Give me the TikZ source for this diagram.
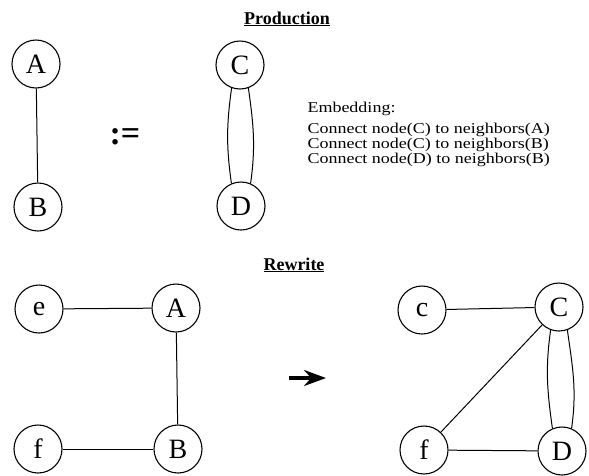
\documentclass[tikz,border=0pt]{standalone}
\usepackage{fontspec}
\setmainfont{Liberation Serif}
\newfontfamily\embfont[FakeStretch=1.2]{Liberation Serif}
\usepackage{tikz}
\usetikzlibrary{arrows.meta,automata}

\begin{document}
\begin{tikzpicture}[x=1pt, y=-1pt, auto, line width=1pt]
    \tikzstyle{every state}=[fill=none, text=black, draw, minimum size=48pt,
                             inner sep=0pt, line width=1.1pt,
                             font=\fontsize{28}{30}\selectfont]
    \tikzstyle{title}=[anchor=base, font=\fontsize{18}{20}\selectfont\bfseries]
    \tikzstyle{rule}=[anchor=base west, inner sep=0pt,
                      font=\embfont\fontsize{15}{16}\selectfont]
    \useasboundingbox (0,0) rectangle (589,475);

    % production
    \node[title] (prod) at (287,24) {\underline{Production}};

    \node[state] (A) at (36,64)  {A};
    \node[state] (B) at (38,207) {B};
    \node[state] (C) at (240,65) {C};
    \node[state] (D) at (241,206) {D};

    \node[font=\fontsize{34}{36}\selectfont\bfseries] (def) at (125,137) {:=};

    \path (A) edge (B);
    \path (C.250) edge [out=262, in=98]  (D.113);
    \path (C.290) edge [out=278, in=82]  (D.67);

    \node[rule] (emb)  at (307,112) {Embedding:};
    \node[rule] (emb1) at (307,133) {Connect node(C) to neighbors(A)};
    \node[rule] (emb2) at (307,148) {Connect node(C) to neighbors(B)};
    \node[rule] (emb3) at (307,163) {Connect node(D) to neighbors(B)};

    % rewrite
    \node[title] (rew) at (294,270) {\underline{Rewrite}};

    \node[state] (eL) at (39,309)  {e};
    \node[state] (AL) at (176,308) {A};
    \node[state] (fL) at (38,449)  {f};
    \node[state] (BL) at (178,449) {B};

    \path (eL) edge (AL);
    \path (AL) edge (BL);
    \path (fL) edge (BL);

    \coordinate (from) at (289,378);
    \coordinate (to)   at (326,378);
    \draw[line width=3.5pt, -{Stealth[length=22pt, width=16pt]}] (from) -- (to);

    \node[state] (cR) at (422,310) {c};
    \node[state] (CR) at (559,307) {C};
    \node[state] (fR) at (424,450) {f};
    \node[state] (DR) at (562,451) {D};

    \path (cR) edge (CR);
    \path (CR) edge (fR);
    \path (fR) edge (DR);
    \path (CR.250) edge [out=262, in=98] (DR.113);
    \path (CR.290) edge [out=278, in=82] (DR.67);
\end{tikzpicture}
\end{document}
